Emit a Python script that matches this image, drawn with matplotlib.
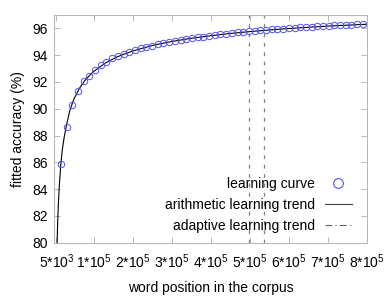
import numpy as np
import matplotlib
matplotlib.use("Agg")
import matplotlib.pyplot as plt
from matplotlib.lines import Line2D

plt.rcParams['font.family'] = ['Liberation Sans', 'DejaVu Sans']
plt.rcParams['mathtext.fontset'] = 'custom'
plt.rcParams['mathtext.rm'] = 'Liberation Sans'
plt.rcParams['mathtext.default'] = 'regular'
plt.rcParams['font.size'] = 10

# learning curve samples (word position, fitted accuracy %)
curve_x = np.arange(16400, 800000, 14600)
curve_y = [85.89, 88.66, 90.30, 91.35, 92.04, 92.42, 92.92, 93.25, 93.50, 93.78,
           93.97, 94.12, 94.25, 94.39, 94.52, 94.63, 94.72, 94.83, 94.91, 95.00,
           95.08, 95.13, 95.22, 95.26, 95.34, 95.38, 95.45, 95.49, 95.55, 95.58,
           95.65, 95.70, 95.75, 95.78, 95.83, 95.86, 95.90, 95.92, 95.97, 95.99,
           96.03, 96.05, 96.09, 96.11, 96.14, 96.15, 96.19, 96.20, 96.23, 96.24,
           96.27, 96.28, 96.31, 96.32]

# arithmetic learning trend
trend_x = [5000, 6000, 8000, 10000, 12500, 16000, 20000, 25000, 32000, 40000,
           50000, 65000, 80000, 100000, 130000, 160000, 200000, 250000, 300000,
           350000, 400000, 450000, 500000, 550000, 600000, 650000, 700000,
           750000, 800000]
trend_y = [77.5, 79.1, 81.35, 82.91, 84.34, 85.76, 86.93, 87.9, 88.95, 89.94,
           90.74, 91.58, 92.19, 92.78, 93.41, 93.87, 94.31, 94.72, 95.02,
           95.26, 95.45, 95.62, 95.76, 95.88, 95.99, 96.08, 96.17, 96.24, 96.31]

# vertical markers
vlines = [498000, 538000]

xticks = [5000, 100000, 200000, 300000, 400000, 500000, 600000, 700000, 800000]
xlabels = ['5*10$^3$'] + ['%d*10$^5$' % i for i in range(1, 9)]
yticks = [80, 82, 84, 86, 88, 90, 92, 94, 96]

fig = plt.figure(figsize=(3.9, 3.0), dpi=100)
ax = fig.add_axes([0.1397, 0.191, 0.8006, 0.759])

frame_col = '#b8b8b8'
blue = '#5050ff'
for v in vlines:
    ax.axvline(v, color='#808080', lw=0.9, linestyle=(0, (3, 4.5)))
ax.plot(trend_x, trend_y, color='black', lw=0.8)
ax.plot(curve_x, curve_y, 'o', mfc='none', mec=blue, ms=4.6, mew=0.7)

ax.set_xlim(0, 800000)
ax.set_ylim(80, 97)
ax.set_xticks(xticks)
ax.set_xticklabels(xlabels)
ax.set_yticks(yticks)
ax.tick_params(direction='in', length=4, width=0.7, color=frame_col,
               top=True, right=True)
ax.tick_params(axis='x', pad=7)
ax.tick_params(axis='y', pad=5)
for s in ax.spines.values():
    s.set_color(frame_col)
    s.set_linewidth(0.8)

ax.set_xlabel('word position in the corpus', labelpad=7)
ax.set_ylabel('fitted accuracy (%)', labelpad=5)

handles = [Line2D([], [], marker='o', ls='none', mfc='none', mec=blue, ms=7, mew=0.8),
           Line2D([], [], color='#404040', lw=0.8),
           Line2D([], [], color='#606060', lw=0.8, ls=(0, (6, 3, 1, 3)))]
ax.legend(handles, ['learning curve', 'arithmetic learning trend', 'adaptive learning trend'],
          loc='lower right', frameon=False, markerfirst=False, handlelength=2.0,
          labelspacing=0.5, borderaxespad=0.3, handletextpad=0.7,
          bbox_to_anchor=(0.985, 0.0))

fig.savefig('out.png', dpi=100)
